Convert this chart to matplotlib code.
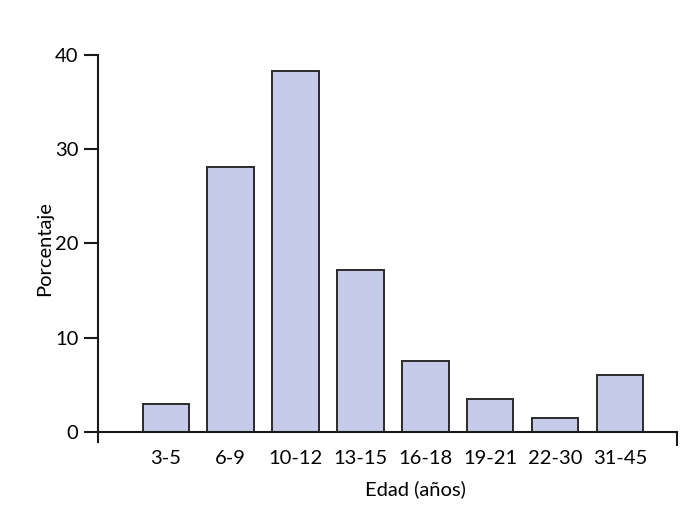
import matplotlib.pyplot as plt
import numpy as np

# age groups and share of cases (%)
grupos = ["3-5", "6-9", "10-12", "13-15", "16-18", "19-21", "22-30", "31-45"]
porcentaje = [3.0, 28.1, 38.3, 17.2, 7.5, 3.5, 1.5, 6.0]
yticks = [0, 10, 20, 30, 40]

plt.rcParams['font.family'] = ['Lato', 'DejaVu Sans']

fig = plt.figure(figsize=(7, 5.18), dpi=100)
ax = fig.add_axes([0.14, 0.1467, 0.827, 0.7473])

x = np.arange(len(grupos))
ax.bar(x, porcentaje, width=0.71, color="#c5cbe8", edgecolor="#2b2b2b", linewidth=1.4)

ax.set_xlim(-1.04, 7.87)
ax.set_ylim(-1.06, 40)
ax.spines['bottom'].set_position(('data', 0))
ax.spines['left'].set_bounds(-1.06, 40)
ax.spines['top'].set_visible(False)
ax.spines['right'].set_visible(False)
for s in ('left', 'bottom'):
    ax.spines[s].set_linewidth(1.5)
    ax.spines[s].set_color("#1a1a1a")

ax.set_yticks(yticks)
ax.tick_params(axis='y', length=10, width=1.5, labelsize=14.5, pad=4, color="#1a1a1a")
ax.set_xticks(x)
ax.set_xticklabels(grupos)
ax.tick_params(axis='x', which='major', length=0, labelsize=14.5, pad=13)
# end tick on the right of the x axis
ax.set_xticks([7.87], minor=True)
ax.tick_params(axis='x', which='minor', length=10, width=1.5, color="#1a1a1a")

ax.set_ylabel("Porcentaje", fontsize=14.5)
ax.yaxis.set_label_coords(-0.078, 0.5)
ax.set_xlabel("Edad (años)", fontsize=14.5)
ax.xaxis.set_label_coords(0.549, -0.10)

fig.savefig("out.png", dpi=100)
